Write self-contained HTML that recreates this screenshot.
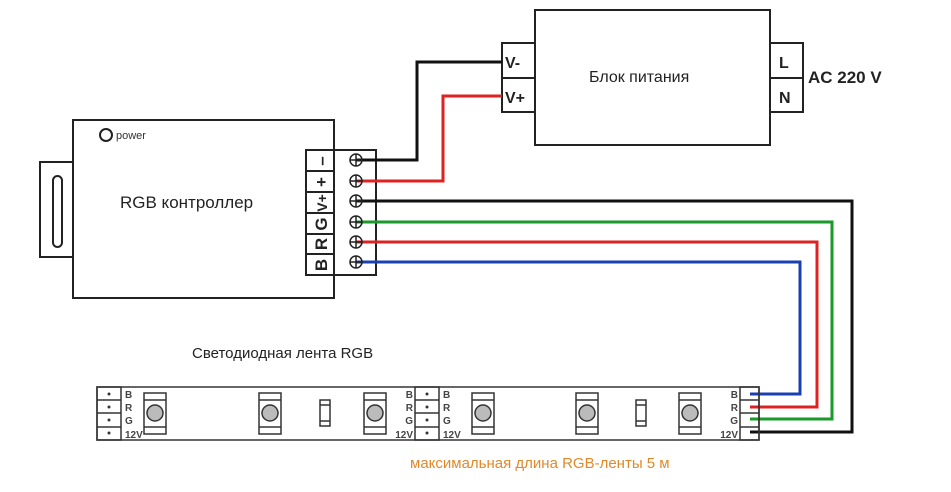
<!DOCTYPE html>
<html><head><meta charset="utf-8"><style>
html,body{margin:0;padding:0;background:#fff}
svg{display:block}
text{font-family:"Liberation Sans",Arial,sans-serif}
</style></head><body>
<svg width="951" height="492" viewBox="0 0 951 492" xmlns="http://www.w3.org/2000/svg">
<rect width="951" height="492" fill="#fff"/>
<g fill="none" stroke="#222" stroke-width="2">
<rect x="535" y="10" width="235" height="135"/>
<rect x="502" y="43" width="33" height="69"/>
<line x1="502" y1="78" x2="535" y2="78"/>
<rect x="770" y="43" width="33" height="69"/>
<line x1="770" y1="78" x2="803" y2="78"/>
<rect x="73" y="120" width="261" height="178"/>
<rect x="40" y="162" width="33" height="95"/>
<rect x="53" y="176" width="9" height="71" rx="4.5"/>
<circle cx="106" cy="135" r="6"/>
<rect x="306" y="150" width="28" height="125"/>
<rect x="334" y="150" width="42" height="125"/>
<line x1="306" y1="171" x2="334" y2="171"/><line x1="306" y1="192" x2="334" y2="192"/>
<line x1="306" y1="213" x2="334" y2="213"/><line x1="306" y1="234" x2="334" y2="234"/>
<line x1="306" y1="254" x2="334" y2="254"/>
</g>
<g fill="none" stroke-width="3">
<polyline points="356,160 417,160 417,62 502,62" stroke="#111"/>
<polyline points="356,181 443,181 443,96 502,96" stroke="#d22"/>
<polyline points="356,201 852,201 852,432 750,432" stroke="#111"/>
<polyline points="356,222 832,222 832,419 750,419" stroke="#1a9a2a"/>
<polyline points="356,242 817,242 817,407 750,407" stroke="#d22"/>
<polyline points="356,262 800,262 800,394 750,394" stroke="#1a3fb0"/>
</g>
<g fill="none" stroke="#222" stroke-width="1.5">
<circle cx="356" cy="160" r="6"/><circle cx="356" cy="181" r="6"/><circle cx="356" cy="201" r="6"/>
<circle cx="356" cy="222" r="6"/><circle cx="356" cy="242" r="6"/><circle cx="356" cy="262" r="6"/>
<path d="M350 160h12M356 154v12M350 181h12M356 175v12M350 201h12M356 195v12M350 222h12M356 216v12M350 242h12M356 236v12M350 262h12M356 256v12"/>
</g>
<g font-weight="bold" font-size="17" fill="#222">
<text transform="translate(327,161) rotate(-90)" text-anchor="middle">–</text>
<text transform="translate(327,182) rotate(-90)" text-anchor="middle">+</text>
<text transform="translate(327,203) rotate(-90)" text-anchor="middle" font-size="14">V+</text>
<text transform="translate(327,224) rotate(-90)" text-anchor="middle">G</text>
<text transform="translate(327,244) rotate(-90)" text-anchor="middle">R</text>
<text transform="translate(327,265) rotate(-90)" text-anchor="middle">B</text>
</g>
<text x="116" y="139" font-size="11" fill="#333">power</text>
<text x="120" y="208" font-size="17" fill="#222">RGB контроллер</text>
<text x="589" y="82" font-size="16" fill="#222">Блок питания</text>
<g font-weight="bold" font-size="16" fill="#222">
<text x="505" y="68">V-</text><text x="505" y="103">V+</text>
<text x="779" y="68">L</text><text x="779" y="103">N</text>
<text x="808" y="83" font-size="17">AC 220 V</text>
</g>
<text x="192" y="358" font-size="15" fill="#222">Светодиодная лента RGB</text>
<g fill="none" stroke="#333" stroke-width="1.5">
<rect x="97" y="387" width="662" height="53"/>
<rect x="97" y="387" width="24" height="53"/>
<line x1="97" y1="400" x2="121" y2="400"/><line x1="97" y1="413" x2="121" y2="413"/><line x1="97" y1="427" x2="121" y2="427"/>
<rect x="415" y="387" width="24" height="53"/>
<line x1="415" y1="400" x2="439" y2="400"/><line x1="415" y1="413" x2="439" y2="413"/><line x1="415" y1="427" x2="439" y2="427"/>
<rect x="740" y="387" width="19" height="53"/>
<line x1="740" y1="400" x2="759" y2="400"/><line x1="740" y1="413" x2="759" y2="413"/><line x1="740" y1="427" x2="759" y2="427"/>
</g>
<g fill="#333">
<circle cx="109" cy="394" r="1.5"/><circle cx="109" cy="407" r="1.5"/><circle cx="109" cy="420" r="1.5"/><circle cx="109" cy="433" r="1.5"/>
<circle cx="427" cy="394" r="1.5"/><circle cx="427" cy="407" r="1.5"/><circle cx="427" cy="420" r="1.5"/><circle cx="427" cy="433" r="1.5"/>
</g>
<g font-size="10" font-weight="bold" fill="#444">
<text x="125" y="398">B</text><text x="125" y="411">R</text><text x="125" y="424">G</text><text x="125" y="438">12V</text>
<text x="443" y="398">B</text><text x="443" y="411">R</text><text x="443" y="424">G</text><text x="443" y="438">12V</text>
<g text-anchor="end">
<text x="413" y="398">B</text><text x="413" y="411">R</text><text x="413" y="424">G</text><text x="413" y="438">12V</text>
<text x="738" y="398">B</text><text x="738" y="411">R</text><text x="738" y="424">G</text><text x="738" y="438">12V</text>
</g>
</g>
<g fill="none" stroke="#333" stroke-width="1.5">
<g transform="translate(155,0)"><rect x="-11" y="393" width="22" height="41"/><line x1="-11" y1="400" x2="11" y2="400"/><line x1="-11" y1="427" x2="11" y2="427"/><circle cx="0" cy="413" r="8" fill="#bbb"/></g>
<g transform="translate(270,0)"><rect x="-11" y="393" width="22" height="41"/><line x1="-11" y1="400" x2="11" y2="400"/><line x1="-11" y1="427" x2="11" y2="427"/><circle cx="0" cy="413" r="8" fill="#bbb"/></g>
<g transform="translate(375,0)"><rect x="-11" y="393" width="22" height="41"/><line x1="-11" y1="400" x2="11" y2="400"/><line x1="-11" y1="427" x2="11" y2="427"/><circle cx="0" cy="413" r="8" fill="#bbb"/></g>
<g transform="translate(483,0)"><rect x="-11" y="393" width="22" height="41"/><line x1="-11" y1="400" x2="11" y2="400"/><line x1="-11" y1="427" x2="11" y2="427"/><circle cx="0" cy="413" r="8" fill="#bbb"/></g>
<g transform="translate(587,0)"><rect x="-11" y="393" width="22" height="41"/><line x1="-11" y1="400" x2="11" y2="400"/><line x1="-11" y1="427" x2="11" y2="427"/><circle cx="0" cy="413" r="8" fill="#bbb"/></g>
<g transform="translate(690,0)"><rect x="-11" y="393" width="22" height="41"/><line x1="-11" y1="400" x2="11" y2="400"/><line x1="-11" y1="427" x2="11" y2="427"/><circle cx="0" cy="413" r="8" fill="#bbb"/></g>
<g transform="translate(325,0)"><rect x="-5" y="400" width="10" height="26"/><line x1="-5" y1="405" x2="5" y2="405"/><line x1="-5" y1="421" x2="5" y2="421"/></g>
<g transform="translate(641,0)"><rect x="-5" y="400" width="10" height="26"/><line x1="-5" y1="405" x2="5" y2="405"/><line x1="-5" y1="421" x2="5" y2="421"/></g>
</g>
<text x="410" y="468" font-size="15" fill="#e0892a">максимальная длина RGB-ленты 5 м</text>
</svg>
</body></html>
